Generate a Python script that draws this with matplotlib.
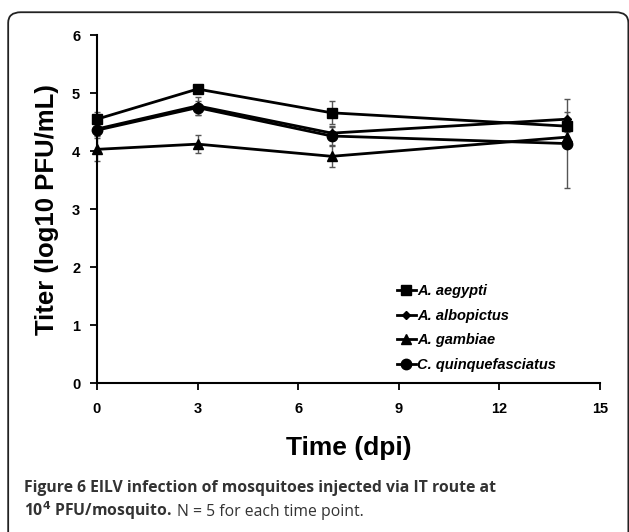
import matplotlib
matplotlib.use("Agg")
import matplotlib.pyplot as plt
from matplotlib.patches import FancyBboxPatch
from matplotlib.lines import Line2D

# Data (titer, log10 PFU/mL)
days = [0, 3, 7, 14]
aegypti = [4.55, 5.07, 4.66, 4.43]
aegypti_err = [0.12, 0.06, 0.20, 0.10]
albopictus = [4.38, 4.78, 4.31, 4.55]
albopictus_err = [0.10, 0.15, 0.12, 0.12]
gambiae = [4.03, 4.12, 3.91, 4.24]
gambiae_err = [0.20, 0.15, 0.18, 0.12]
quinque = [4.36, 4.75, 4.26, 4.13]
quinque_err = [0.10, 0.12, 0.15, 0.77]

series = [
    ("A. aegypti", aegypti, aegypti_err, "s", 7),
    ("A. albopictus", albopictus, albopictus_err, "D", 4.5),
    ("A. gambiae", gambiae, gambiae_err, "^", 7.5),
    ("C. quinquefasciatus", quinque, quinque_err, "o", 7.5),
]

fig = plt.figure(figsize=(6.29, 5.32), dpi=100)
ax = fig.add_axes([0.154, 0.280, 0.800, 0.654])

font = "Liberation Sans"

handles = []
for name, vals, err, marker, ms in series:
    ax.errorbar(days, vals, yerr=err, fmt="none", ecolor="#555555",
                elinewidth=1.0, capsize=2.5, capthick=1.0, clip_on=False, zorder=2)
    ax.plot(days, vals, color="black", lw=2, marker=marker, ms=ms,
            mfc="black", mec="black", clip_on=False, zorder=3)
    handles.append(Line2D([0], [0], color="black", lw=2, marker=marker, ms=ms))

ax.set_xlim(0, 15)
ax.set_ylim(0, 6)
ax.set_xticks([0, 3, 6, 9, 12, 15])
ax.set_yticks([0, 1, 2, 3, 4, 5, 6])
for s in ["top", "right"]:
    ax.spines[s].set_visible(False)
for s in ["left", "bottom"]:
    ax.spines[s].set_linewidth(1.5)
ax.tick_params(direction="out", length=5, width=1.3, pad=7)
ax.tick_params(axis="x", pad=9)
for lab in ax.get_xticklabels() + ax.get_yticklabels():
    lab.set_fontfamily(font)
    lab.set_fontweight("bold")
    lab.set_fontsize(10.5)

ax.set_xlabel("Time (dpi)", fontfamily=font, fontweight="bold", fontsize=19, labelpad=14)
ax.set_ylabel("Titer (log10 PFU/mL)", fontfamily=font, fontweight="bold", fontsize=18.5, labelpad=9)

leg = ax.legend(handles, [s[0] for s in series], loc="lower left",
                bbox_to_anchor=(0.57, -0.005), frameon=False, handlelength=1.3,
                handletextpad=0.1, labelspacing=0.72,
                prop={"family": font, "weight": "bold", "style": "italic", "size": 10.5})

# Caption
cap = "#333333"
csize = 11.3
fig.text(0.038, 0.076, "Figure 6 EILV infection of mosquitoes injected via IT route at",
         fontfamily="Open Sans", fontweight="bold", fontsize=csize, color=cap)
t2 = fig.text(0.038, 0.030, r"10$^{\mathbf{4}}$ PFU/mosquito.", fontfamily="Open Sans",
              fontweight="bold", fontsize=csize, color=cap)
r = fig.canvas.get_renderer()
bb = t2.get_window_extent(r).transformed(fig.transFigure.inverted())
fig.text(bb.x1 + 0.008, 0.030, "N = 5 for each time point.", fontfamily="Open Sans",
         fontsize=csize, color=cap)

# rounded frame, open at the bottom
box = FancyBboxPatch((0.013, -0.05), 0.986, 1.027, boxstyle="round,pad=0,rounding_size=0.02",
                     transform=fig.transFigure, fill=False, ec="#222222", lw=1.3,
                     clip_on=False)
fig.patches.append(box)

fig.savefig("out.png", dpi=100)
